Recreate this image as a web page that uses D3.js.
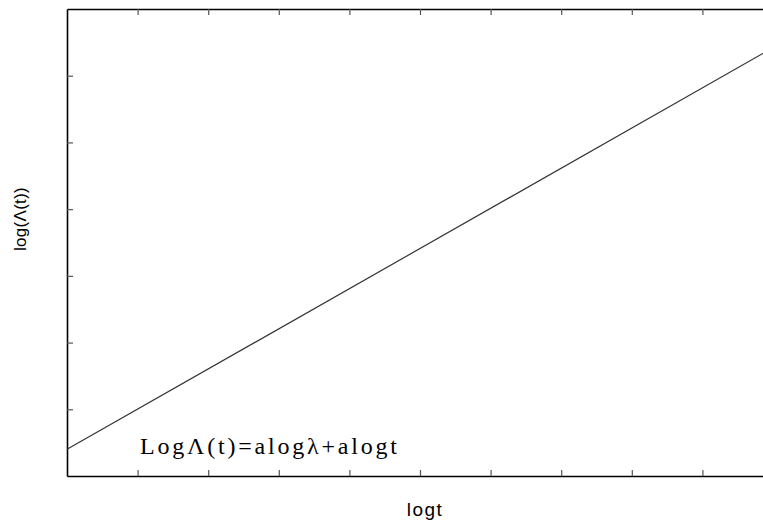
<!DOCTYPE html>
<html>
<head>
<meta charset="utf-8">
<script src="https://cdn.jsdelivr.net/npm/d3@7"></script>
<style>
  body { margin: 0; background: #fff; }
  svg { display: block; }
</style>
</head>
<body>
<div id="chart"></div>
<script>
// data
const logT = [0, 10];
const logLambda = [0.4, 6.42];
const xTicks = [1, 2, 3, 4, 5, 6, 7, 8, 9];
const yTicks = [1, 2, 3, 4, 5, 6];
const formula = "LogΛ(t)=alogλ+alogt";

const width = 763, height = 520;
const margin = { top: 9, left: 67 };
const plotRight = 773;   // right edge runs past the window
const plotBottom = 476;

const svg = d3.select("#chart")
  .append("svg")
  .attr("width", width)
  .attr("height", height);

const x = d3.scaleLinear().domain([0, 10]).range([margin.left, plotRight]);
const y = d3.scaleLinear().domain([0, 7]).range([plotBottom, margin.top]);

function styleAxis(g) {
  g.select(".domain").attr("stroke", "#000").attr("stroke-width", 1.6);
  g.selectAll(".tick line").attr("stroke", "#555").attr("stroke-width", 1.2);
}

// bottom axis, ticks pointing in
svg.append("g")
  .attr("transform", `translate(0,${plotBottom})`)
  .call(d3.axisBottom(x).tickValues(xTicks).tickSize(-6).tickSizeOuter(0).tickFormat(""))
  .call(styleAxis);

// top axis
svg.append("g")
  .attr("transform", `translate(0,${margin.top})`)
  .call(d3.axisTop(x).tickValues(xTicks).tickSize(-6).tickSizeOuter(0).tickFormat(""))
  .call(styleAxis);

// left axis
svg.append("g")
  .attr("transform", `translate(${margin.left},0)`)
  .call(d3.axisLeft(y).tickValues(yTicks).tickSize(-6).tickSizeOuter(0).tickFormat(""))
  .call(styleAxis);

// right axis (off screen mostly)
svg.append("g")
  .attr("transform", `translate(${plotRight},0)`)
  .call(d3.axisRight(y).tickValues(yTicks).tickSize(-6).tickSizeOuter(0).tickFormat(""))
  .call(styleAxis);

// the line
const lineData = logT.map((t, i) => ({ t: t, v: logLambda[i] }));
svg.append("path")
  .datum(lineData)
  .attr("fill", "none")
  .attr("stroke", "#333")
  .attr("stroke-width", 1.2)
  .attr("d", d3.line().x(d => x(d.t)).y(d => y(d.v)));

// formula
svg.append("text")
  .attr("x", 140)
  .attr("y", 454)
  .attr("textLength", 257)
  .attr("lengthAdjust", "spacing")
  .style("font-family", "'Liberation Serif', 'Times New Roman', serif")
  .style("font-size", "24px")
  .style("fill", "#000")
  .text(formula);

// axis labels
svg.append("text")
  .attr("x", 425)
  .attr("y", 516)
  .attr("text-anchor", "middle")
  .style("font-family", "'Liberation Sans', Arial, sans-serif")
  .style("font-size", "19px")
  .style("letter-spacing", "1.5px")
  .text("logt");

svg.append("text")
  .attr("transform", "translate(26,219) rotate(-90)")
  .attr("text-anchor", "middle")
  .style("font-family", "'Liberation Sans', Arial, sans-serif")
  .style("font-size", "17px")
  .style("letter-spacing", "0.3px")
  .text("log(Λ(t))");
</script>
</body>
</html>
